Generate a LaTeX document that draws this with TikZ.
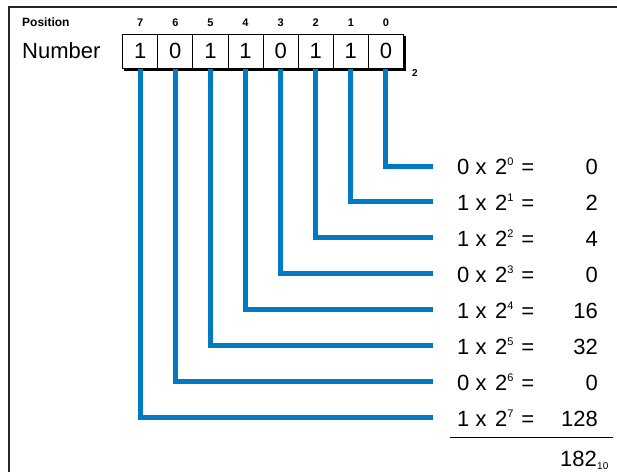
\documentclass[tikz,border=0pt]{standalone}
\usepackage{fontspec}
\setmainfont{Liberation Sans}
\usetikzlibrary{backgrounds}
\definecolor{bitblue}{RGB}{0,122,194}
\newcommand\supx[1]{\raisebox{9pt}{\fontsize{11}{11}\selectfont #1}}
\begin{document}
\begin{tikzpicture}[x=1pt,y=-1pt,
  cell/.style={draw, fill=white, line width=0.9pt, minimum width=35.1pt, minimum height=34.3pt, inner sep=0pt, font=\fontsize{22}{24}\selectfont},
  poslbl/.style={font=\bfseries\fontsize{11}{12}\selectfont, inner sep=0pt, anchor=base},
  rowtxt/.style={font=\fontsize{22}{24}\selectfont, inner sep=0pt, anchor=base west},
  valtxt/.style={font=\fontsize{22}{24}\selectfont, inner sep=0pt, anchor=base east},
  conn/.style={draw=bitblue, line width=5pt}]
\useasboundingbox (0,0) rectangle (617,471);
% frame
\draw[line width=1.8pt, black!85] (9,490) -- (9,7) -- (640,7);
% labels
\node[font=\bfseries\fontsize{12}{12}\selectfont, inner sep=0pt, anchor=base west] (poslabel) at (22,26) {Position};
\node[font=\fontsize{22}{24}\selectfont, inner sep=0pt, anchor=base west] (numlabel) at (22,58) {Number};
% bit cells
\foreach \k/\p/\v in {0/7/1,1/6/0,2/5/1,3/4/1,4/3/0,5/2/1,6/1/1,7/0/0}{
  \node[cell] (b\p) at ({140.25+35.1*\k},51.2) {\v};
  \node[poslbl] (p\p) at ({140.25+35.1*\k},26) {\p};
}
\begin{scope}[on background layer]
  \fill[black] ([shift={(2.2,2.2)}]b7.north west) rectangle ([shift={(2.2,2.2)}]b0.south east);
\end{scope}
\node[font=\bfseries\fontsize{10}{10}\selectfont, inner sep=0pt, anchor=base west] (basetwo) at (412,76) {2};
% rows
\foreach \k/\d/\v in {0/0/0,1/1/2,2/1/4,3/0/0,4/1/16,5/1/32,6/0/0,7/1/128}{
  \coordinate (e\k) at (433,{166+35.9*\k});
  \node[rowtxt] (r\k) at (457,{174+36*\k}) {\d\ x\hspace{8.5pt}2\supx{\k}\hspace{8pt}=};
  \node[valtxt] (v\k) at (598,{174+36*\k}) {\v};
  \draw[conn] (b\k.south) |- (e\k);
}
% sum
\draw[line width=1.2pt] (450,437.5) -- (613,437.5);
\node[valtxt] (tot) at (597,466) {182};
\node[font=\fontsize{10}{10}\selectfont, inner sep=0pt, anchor=base west] (totsub) at (tot.base east) [yshift=-3pt] {10};
\end{tikzpicture}
\end{document}
